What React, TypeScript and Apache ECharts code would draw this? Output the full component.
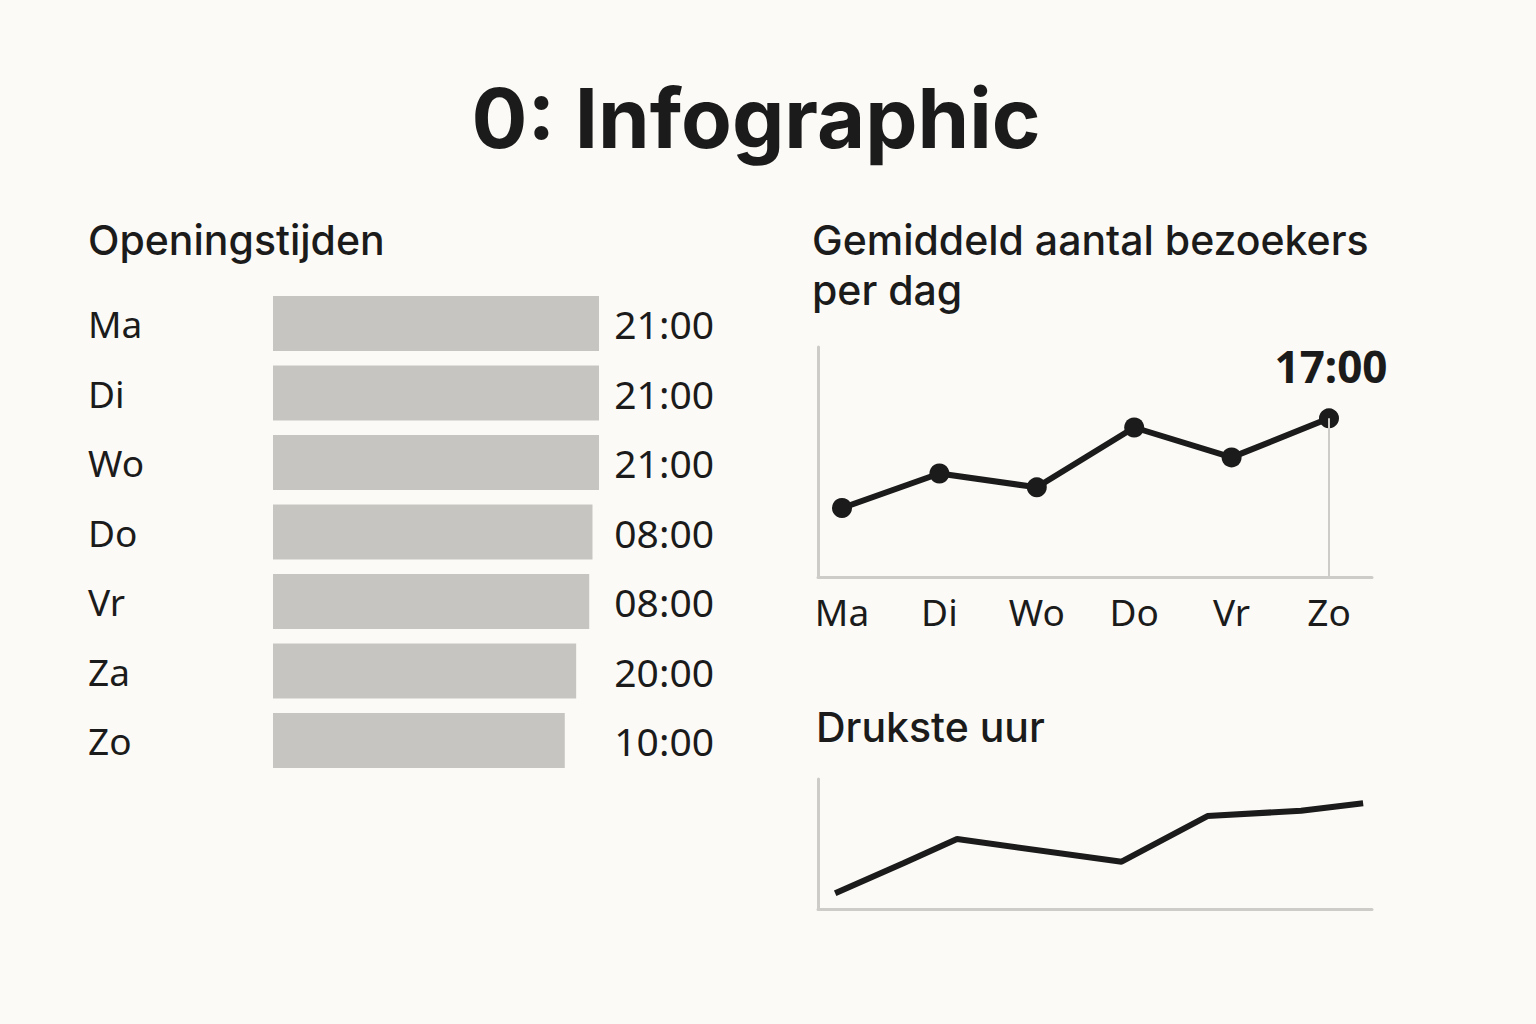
import React, { useEffect, useRef } from "react";
import * as echarts from "echarts";

// Openingstijden
const hoursDays = ["Ma", "Di", "Wo", "Do", "Vr", "Za", "Zo"];
const hoursBarValues = [100, 100, 100, 98, 97, 93, 89.5];
const hoursLabels = ["21:00", "21:00", "21:00", "08:00", "08:00", "20:00", "10:00"];

// Gemiddeld aantal bezoekers per dag
const visitDays = ["Ma", "Di", "Wo", "Do", "Vr", "Zo"];
const visitValues = [150, 225, 195, 325, 260, 345];
const peakLabel = "17:00";

// Drukste uur
const busyX = [3.1, 15.4, 25.1, 54.8, 70.3, 87.2, 98.4];
const busyY = [12.1, 35.2, 53.8, 36.4, 71.5, 75.6, 81.3];

const INK = "#1b1b1b";
const AXIS = "#cdccc8";
const BAR = "#c6c5c2";
const BG = "#fcfaf6";
const LABEL_FONT = "'Noto Sans', sans-serif";
const HEAD_FONT = "Inter, 'Noto Sans', sans-serif";

export default function App() {
  const ref = useRef<HTMLDivElement>(null);
  useEffect(() => {
    if (!ref.current) return;
    const chart = echarts.init(ref.current, undefined, { renderer: "svg" });
    const hiddenAxis = {
      axisLine: { show: false },
      axisTick: { show: false },
      axisLabel: { show: false },
      splitLine: { show: false },
    };
    const lineAxis = {
      axisLine: { show: true, lineStyle: { color: AXIS, width: 3 } },
      axisTick: { show: false },
      axisLabel: { show: false },
      splitLine: { show: false },
    };
    chart.setOption({
      animation: false,
      backgroundColor: BG,
      grid: [
        { left: 273, top: 288.75, width: 326, height: 486.5 },
        { left: 842, top: 347, width: 487, height: 230 },
        { left: 818, top: 779, width: 554, height: 130 },
        { left: 818, top: 347, width: 554, height: 230 },
      ],
      xAxis: [
        { gridIndex: 0, type: "value", min: 0, max: 100, ...hiddenAxis },
        {
          gridIndex: 1,
          type: "category",
          data: visitDays,
          boundaryGap: false,
          axisLine: { show: false },
          axisTick: { show: false },
          splitLine: { show: false },
          axisLabel: {
            color: INK,
            fontSize: 37,
            fontFamily: LABEL_FONT,
            margin: 16,
            formatter: (v: string) => v,
          },
        },
        { gridIndex: 2, type: "value", min: 0, max: 100, ...lineAxis },
        { gridIndex: 3, type: "value", min: 0, max: 100, ...lineAxis },
      ],
      yAxis: [
        {
          gridIndex: 0,
          type: "category",
          data: hoursDays,
          inverse: true,
          axisLine: { show: false },
          axisTick: { show: false },
          splitLine: { show: false },
          axisLabel: { color: INK, fontSize: 37, fontFamily: LABEL_FONT, align: "left", margin: 185 },
        },
        {
          gridIndex: 0,
          type: "category",
          data: hoursDays,
          inverse: true,
          position: "right",
          axisLine: { show: false },
          axisTick: { show: false },
          splitLine: { show: false },
          axisLabel: {
            color: INK,
            fontSize: 39,
            fontFamily: LABEL_FONT,
            align: "right",
            margin: 115,
            formatter: (_v: string, i: number) => hoursLabels[i],
          },
        },
        { gridIndex: 1, type: "value", min: 0, max: 500, ...hiddenAxis },
        { gridIndex: 2, type: "value", min: 0, max: 100, ...lineAxis },
        { gridIndex: 3, type: "value", min: 0, max: 100, ...lineAxis },
      ],
      series: [
        {
          type: "bar",
          xAxisIndex: 0,
          yAxisIndex: 0,
          data: hoursBarValues,
          barWidth: 55,
          itemStyle: { color: BAR },
          silent: true,
        },
        {
          type: "line",
          xAxisIndex: 1,
          yAxisIndex: 2,
          data: visitValues.map((v, i) =>
            i === visitValues.length - 1
              ? {
                  value: v,
                  label: {
                    show: true,
                    position: "top",
                    distance: 20,
                    offset: [2, 0],
                    formatter: peakLabel,
                    fontSize: 44,
                    fontWeight: "bold",
                    fontFamily: LABEL_FONT,
                    color: INK,
                  },
                }
              : v
          ),
          symbol: "circle",
          symbolSize: 20,
          lineStyle: { color: INK, width: 6 },
          itemStyle: { color: INK },
          z: 3,
          markLine: {
            silent: true,
            symbol: "none",
            label: { show: false },
            lineStyle: { color: AXIS, width: 2, type: "solid" },
            data: [
              [
                { coord: [visitDays.length - 1, visitValues[visitValues.length - 1]] },
                { coord: [visitDays.length - 1, 0] },
              ],
            ],
          },
        },
        {
          type: "line",
          xAxisIndex: 2,
          yAxisIndex: 3,
          data: busyX.map((x, i) => [x, busyY[i]]),
          showSymbol: false,
          symbol: "none",
          lineStyle: { color: INK, width: 6 },
        },
      ],
      graphic: [
        {
          type: "text",
          x: 756,
          y: 118,
          style: {
            text: "0: Infographic",
            font: `bold 83px ${HEAD_FONT}`,
            fill: INK,
            textAlign: "center",
            textVerticalAlign: "middle",
          },
        },
        {
          type: "text",
          x: 88,
          y: 240,
          style: {
            text: "Openingstijden",
            font: `500 41px ${HEAD_FONT}`,
            fill: INK,
            textAlign: "left",
            textVerticalAlign: "middle",
          },
        },
        {
          type: "text",
          x: 812,
          y: 240,
          style: {
            text: "Gemiddeld aantal bezoekers",
            font: `500 41px ${HEAD_FONT}`,
            fill: INK,
            textAlign: "left",
            textVerticalAlign: "middle",
          },
        },
        {
          type: "text",
          x: 812,
          y: 290,
          style: {
            text: "per dag",
            font: `500 41px ${HEAD_FONT}`,
            fill: INK,
            textAlign: "left",
            textVerticalAlign: "middle",
          },
        },
        {
          type: "text",
          x: 816,
          y: 727,
          style: {
            text: "Drukste uur",
            font: `500 41px ${HEAD_FONT}`,
            fill: INK,
            textAlign: "left",
            textVerticalAlign: "middle",
          },
        },
      ],
    });
    return () => chart.dispose();
  }, []);
  return (
    <div
      ref={ref}
      style={{ position: "fixed", left: 0, top: 0, width: 1536, height: 1024 }}
    />
  );
}
